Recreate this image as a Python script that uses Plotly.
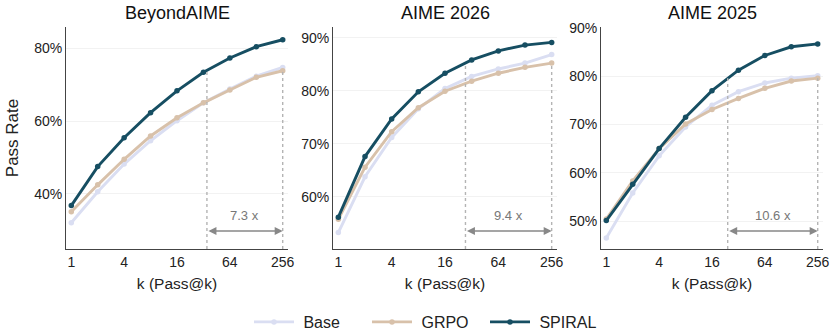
import math
import plotly.graph_objects as go

k_values = [1, 2, 4, 8, 16, 32, 64, 128, 256]
panel_titles = ["BeyondAIME", "AIME 2026", "AIME 2025"]
series_names = ["Base", "GRPO", "SPIRAL"]

beyond_base = [32.1, 40.6, 48.2, 54.6, 60.1, 65.0, 68.8, 72.3, 74.7]
beyond_grpo = [35.1, 42.5, 49.5, 55.9, 60.9, 65.0, 68.5, 72.0, 73.8]
beyond_spiral = [36.8, 47.5, 55.4, 62.3, 68.3, 73.4, 77.3, 80.4, 82.3]

aime26_base = [53.3, 63.8, 71.2, 76.6, 80.4, 82.7, 84.1, 85.2, 86.8]
aime26_grpo = [55.8, 65.6, 72.3, 76.8, 79.9, 81.8, 83.3, 84.4, 85.2]
aime26_spiral = [56.2, 67.6, 74.7, 79.8, 83.3, 85.8, 87.5, 88.6, 89.1]

aime25_base = [46.5, 55.8, 63.5, 69.5, 74.0, 76.8, 78.6, 79.6, 80.1]
aime25_grpo = [50.4, 58.3, 65.0, 70.1, 73.1, 75.4, 77.5, 79.0, 79.6]
aime25_spiral = [50.1, 57.6, 65.0, 71.5, 77.0, 81.25, 84.3, 86.1, 86.7]

speedups = [7.3, 9.4, 10.6]
speedup_labels = ["7.3 x", "9.4 x", "10.6 x"]

y_ranges = [[24.9, 85.8], [50.2, 92.0], [44.2, 90.2]]
y_ticks = [[40, 60, 80], [60, 70, 80, 90], [50, 60, 70, 80, 90]]
x_tickvals = [1, 4, 16, 64, 256]
x_ticktext = ["1", "4", "16", "64", "256"]

panels = [
    [beyond_base, beyond_grpo, beyond_spiral],
    [aime26_base, aime26_grpo, aime26_spiral],
    [aime25_base, aime25_grpo, aime25_spiral],
]

colors = {"Base": "#dadef2", "GRPO": "#d8c1aa", "SPIRAL": "#164e62"}

W, H = 836, 334
x_domains_px = [(66, 288), (333, 557), (601, 823)]
y_top_px, y_bot_px = 27, 249
y_dom = [(H - y_bot_px) / H, (H - y_top_px) / H]

font_family = "Liberation Sans, Arial, Helvetica, sans-serif"

fig = go.Figure()
layout_axes = {}
annotations = []

for i, series in enumerate(panels):
    ax_id = "" if i == 0 else str(i + 1)
    xref = "x" + ax_id
    yref = "y" + ax_id
    for name, vals in zip(series_names, series):
        fig.add_trace(go.Scatter(
            x=k_values, y=vals, mode="lines+markers", name="\u00a0" + name,
            line=dict(color=colors[name], width=2.9),
            marker=dict(color=colors[name], size=5.5),
            xaxis=xref, yaxis=yref, showlegend=(i == 0),
            legendgroup=name,
        ))
    grpo_end = series[1][-1]
    k_start = k_values[-1] / speedups[i]
    y0, y1 = y_ranges[i]
    # dotted vertical guides
    for kx in [k_start, k_values[-1]]:
        fig.add_trace(go.Scatter(
            x=[kx, kx], y=[y0, grpo_end], mode="lines",
            line=dict(color="#b4b4b4", width=1.4, dash="dot"),
            xaxis=xref, yaxis=yref, showlegend=False, hoverinfo="skip",
        ))
    arrow_y = y0 + 0.081 * (y1 - y0)
    text_y = y0 + 0.153 * (y1 - y0)
    lx0, lx1 = math.log10(k_start), math.log10(k_values[-1])
    annotations.append(dict(
        x=lx1, y=arrow_y, ax=lx0, ay=arrow_y, xref=xref, yref=yref,
        axref=xref, ayref=yref, text="", showarrow=True,
        arrowhead=2, startarrowhead=2, arrowside="end+start",
        arrowsize=1.0, startarrowsize=1.0, arrowwidth=1.6, arrowcolor="#888888",
    ))
    annotations.append(dict(
        x=(lx0 + lx1) / 2, y=text_y, xref=xref, yref=yref,
        text=speedup_labels[i], showarrow=False,
        font=dict(size=13, color="#777777", family=font_family),
    ))
    xd = [x_domains_px[i][0] / W, x_domains_px[i][1] / W]
    pad = 0.2 * math.log10(2)
    layout_axes["xaxis" + ax_id] = dict(
        domain=xd, type="log",
        range=[math.log10(k_values[0]) - pad, math.log10(k_values[-1]) + pad],
        tickvals=x_tickvals, ticktext=x_ticktext,
        showgrid=False, zeroline=False, showline=True, linecolor="#444444", linewidth=1,
        ticks="", tickfont=dict(size=14, color="#222222", family=font_family),
        title=dict(text="k (Pass@k)", font=dict(size=15.5, color="#222222", family=font_family), standoff=9),
        anchor=yref, automargin=False,
    )
    layout_axes["yaxis" + ax_id] = dict(
        domain=y_dom, range=y_ranges[i], tickvals=y_ticks[i],
        ticktext=[f"{v}%" for v in y_ticks[i]],
        showgrid=True, gridcolor="#f2f2f2", gridwidth=1, zeroline=False,
        showline=True, linecolor="#444444", linewidth=1, ticks="",
        tickfont=dict(size=14, color="#222222", family=font_family),
        anchor=xref, automargin=False,
    )
    if i == 0:
        layout_axes["yaxis"]["title"] = dict(
            text="Pass Rate", font=dict(size=17, color="#222222", family=font_family), standoff=11)
    annotations.append(dict(
        x=(xd[0] + xd[1]) / 2, y=(H - 13) / H, xref="paper", yref="paper",
        text=panel_titles[i], showarrow=False, xanchor="center", yanchor="middle",
        font=dict(size=18, color="#111111", family=font_family),
    ))

fig.update_layout(
    width=W, height=H,
    margin=dict(l=0, r=0, t=0, b=0, autoexpand=False),
    paper_bgcolor="white", plot_bgcolor="white",
    font=dict(family=font_family),
    annotations=annotations,
    legend=dict(orientation="h", x=(255 - 6) / W, xanchor="left", y=(H - 322) / H, yanchor="middle",
                font=dict(size=16, color="#222222", family=font_family),
                itemwidth=40, tracegroupgap=0, entrywidth=63),
    showlegend=True,
    **layout_axes,
)

fig.write_html("out.html")
